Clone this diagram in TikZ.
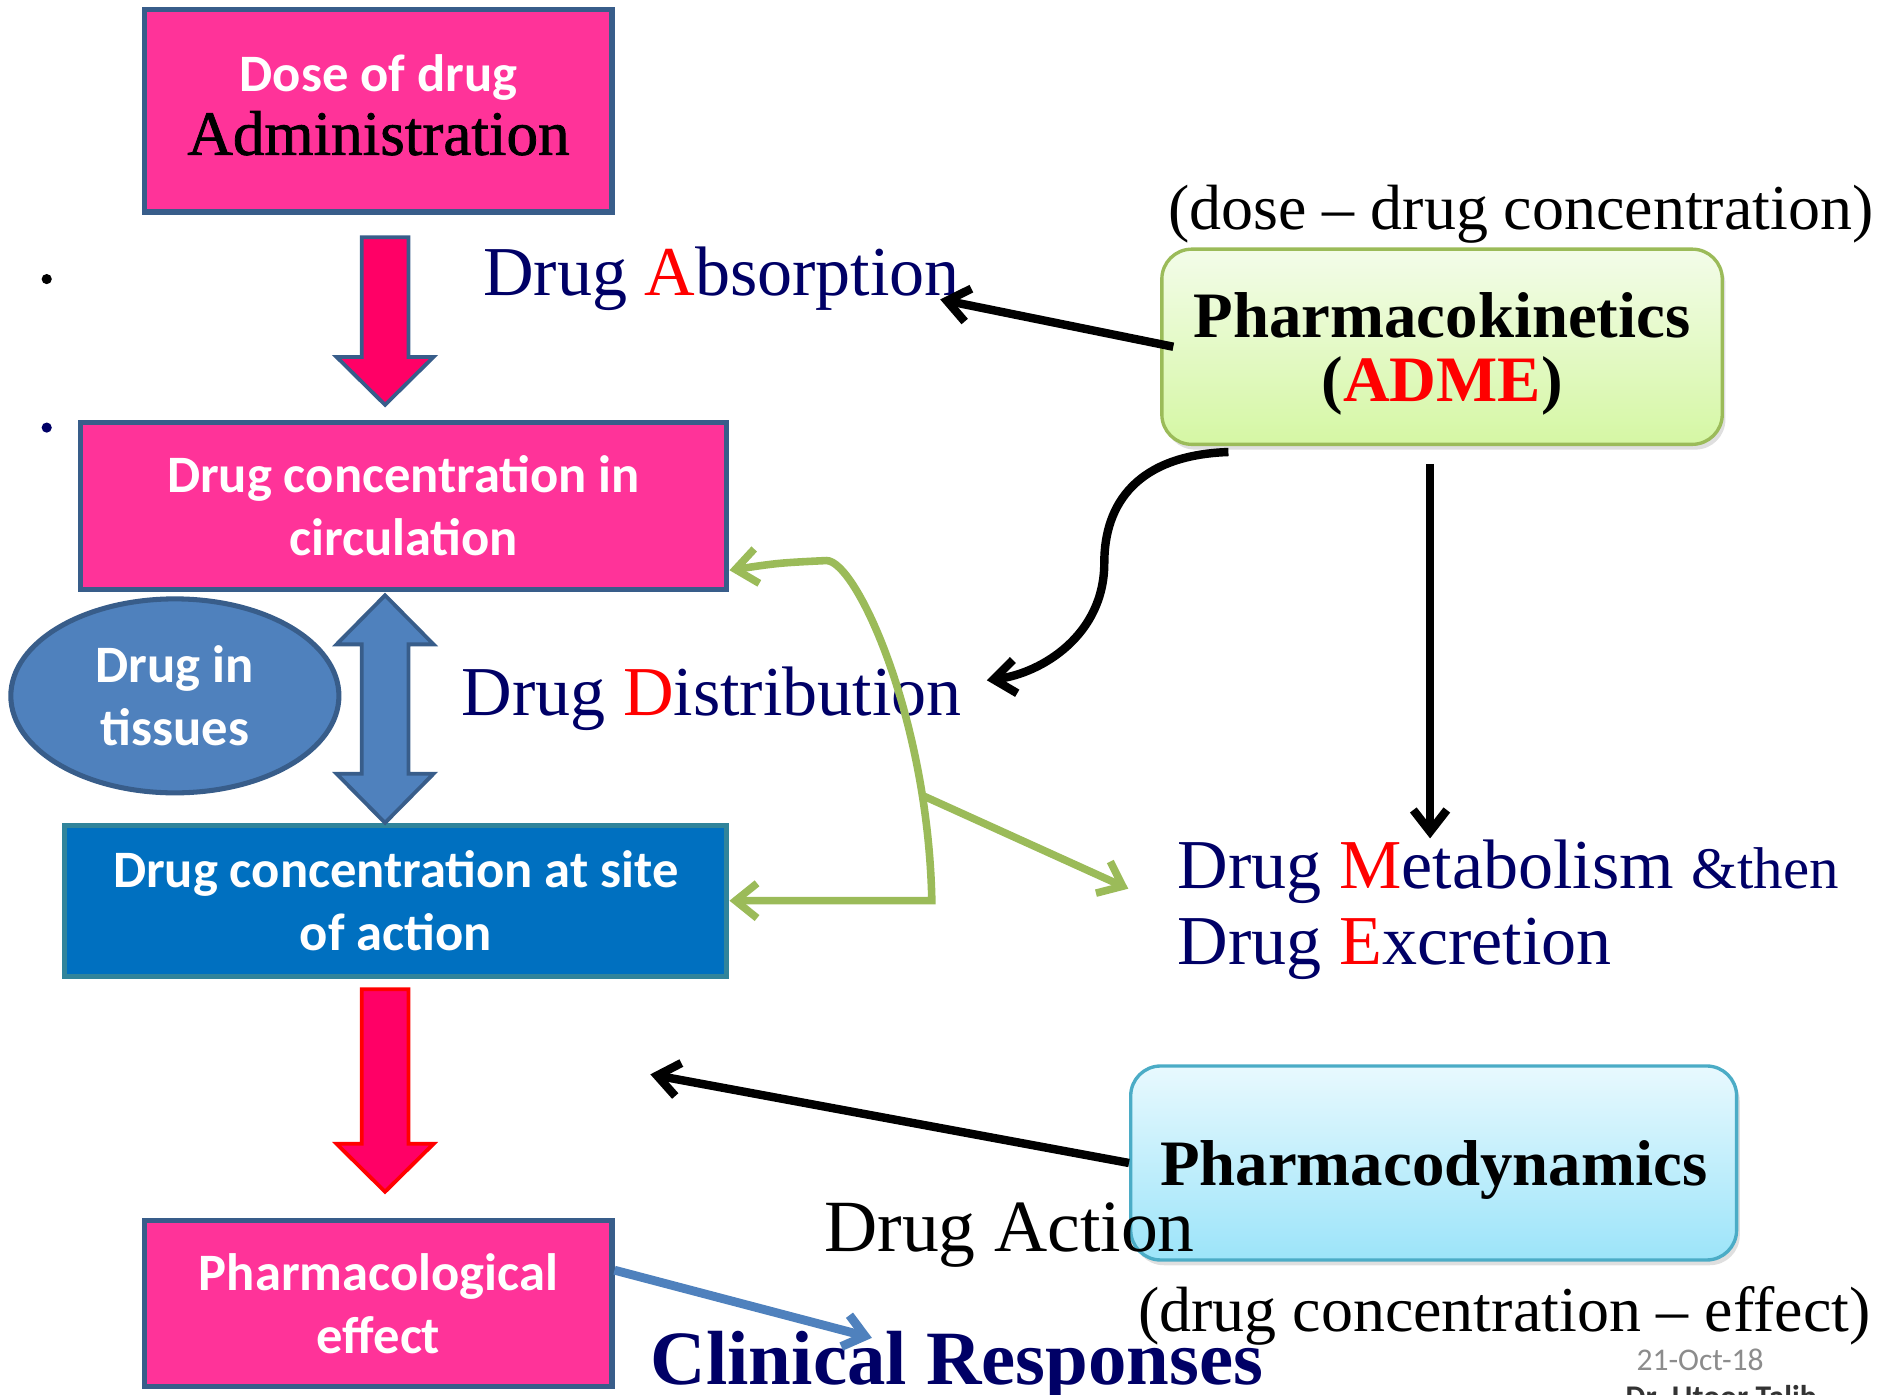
\documentclass[tikz,border=0pt]{standalone}
\usepackage{fontspec}
\setmainfont{Liberation Serif}
\newfontfamily\calibri{Carlito}
\newfontfamily\heavyserif[FakeBold=1.2]{Liberation Serif}
\usetikzlibrary{arrows.meta}
\usetikzlibrary{calc}
\usetikzlibrary{shadows}
\usetikzlibrary{shapes.geometric}

\definecolor{pinkfill}{HTML}{FF3399}
\definecolor{boxline}{HTML}{385D8A}
\definecolor{arrowred}{HTML}{FF0066}
\definecolor{tissueblue}{HTML}{4F81BD}
\definecolor{siteblue}{HTML}{0070C0}
\definecolor{siteline}{HTML}{31849B}
\definecolor{navy}{HTML}{000066}
\definecolor{pkgreen}{HTML}{9BBB59}
\definecolor{pktop}{HTML}{F3FCE9}
\definecolor{pkbottom}{HTML}{D5F7A4}
\definecolor{pdline}{HTML}{4BACC6}
\definecolor{pdtop}{HTML}{E8F9FE}
\definecolor{pdbottom}{HTML}{9CE4F9}
\definecolor{dategray}{HTML}{8C8C8C}

\tikzstyle{stage}=[rectangle, draw=boxline, line width=2.4pt, fill=pinkfill,
  text=white, align=center, inner sep=0pt,
  font=\calibri\bfseries\fontsize{25}{30}\selectfont]
\tikzstyle{sitebox}=[stage, fill=siteblue, draw=siteline]
\tikzstyle{pool}=[stage, ellipse, fill=tissueblue]
\tikzstyle{kinetic}=[rectangle, rounded corners=0.5cm, line width=1.6pt,
  align=center, inner sep=0pt, text depth=0pt,
  font=\bfseries\fontsize{30.8}{30.5}\selectfont,
  drop shadow={shadow xshift=1.5pt, shadow yshift=-2.5pt, opacity=0.25}]
\tikzstyle{phase}=[anchor=base west, inner sep=0pt, text=navy,
  font=\fontsize{33.3}{40}\selectfont]
\tikzstyle{note}=[anchor=base west, inner sep=0pt,
  font=\fontsize{30.4}{36}\selectfont]
\tikzstyle{dot}=[circle, fill=black, inner sep=0pt, minimum size=0.17cm]
\tikzstyle{blockred}=[fill=arrowred, draw=boxline, line width=1.8pt]
\tikzstyle{blockblue}=[fill=tissueblue, draw=boxline, line width=1.8pt]
\tikzstyle{arrblack}=[->, >={Straight Barb[length=0.36cm,width=0.56cm]},
  line width=4pt, draw=black]
\tikzstyle{arrgreen}=[->, >={Straight Barb[length=0.36cm,width=0.58cm]},
  line width=3.6pt, draw=pkgreen]
\tikzstyle{arrblue}=[->, >={Straight Barb[length=0.34cm,width=0.54cm]},
  line width=4.2pt, draw=tissueblue]

\begin{document}
\begin{tikzpicture}[x=0.02cm, y=-0.02cm]
\useasboundingbox (0,0) rectangle (1568,1164);
\clip (0,0) rectangle (1568,1164);

% left column
\node[stage, minimum width=7.8cm, minimum height=3.38cm, text depth=0.2cm] (dose) at (316,92.5)
  {Dose of drug\\{\color{black}\heavyserif\mdseries\fontsize{30}{30}\selectfont Administration}};
\node[stage, minimum width=10.8cm, minimum height=2.78cm] (circ) at (337,422.5)
  {Drug concentration in\\circulation};
\node[pool, minimum width=5.48cm, minimum height=3.24cm] (tissue) at (146,581)
  {Drug in\\tissues};
\node[sitebox, minimum width=11.06cm, minimum height=2.52cm] (site) at (330.5,752)
  {Drug concentration at site\\of action};
\node[stage, minimum width=7.8cm, minimum height=2.78cm] (effect) at (316,1088.5)
  {Pharmacological\\effect};

\draw[blockred] (302,198) -- (341,198) -- (341,298) -- (362,298) -- (321.5,338)
  -- (281,298) -- (302,298) -- cycle;
\draw[blockblue] (321.5,497) -- (362,538) -- (341,538) -- (341,646) -- (362,646)
  -- (321.5,687) -- (281,646) -- (302,646) -- (302,538) -- (281,538) -- cycle;
\draw[blockred, draw=red] (302,826) -- (341,826) -- (341,955) -- (362,955)
  -- (321.5,995) -- (281,955) -- (302,955) -- cycle;

\node[dot] (dotA) at (39,233) {};
\node[dot, fill=navy] (dotB) at (39,357) {};

% ADME labels
\node[phase] (absorb) at (403,247) {Drug {\color{red}A}bsorption};
\node[phase] (distrib) at (385,597) {Drug {\color{red}D}istribution};
\node[phase] (metab) at (983,742)
  {Drug {\color{red}M}etabolism {\fontsize{28}{34}\selectfont\&then}};
\node[phase] (excr) at (983,805) {Drug {\color{red}E}xcretion};

% right column
\node[note] (pkrange) at (975,192) {(dose – drug concentration)};
\node[kinetic, draw=pkgreen, top color=pktop, bottom color=pkbottom,
  minimum width=9.36cm, minimum height=3.26cm] (pk) at (1204,289.5)
  {Pharmacokinetics\\({\color{red}ADME})};
\node[kinetic, draw=pdline, top color=pdtop, bottom color=pdbottom,
  minimum width=10.12cm, minimum height=3.24cm] (pd) at (1197,971)
  {Pharmacodynamics};
\node[note, font=\fontsize{35}{42}\selectfont] (action) at (688,1045) {Drug Action};
\node[note] (pdrange) at (950,1112) {(drug concentration – effect)};
\node[phase, font=\bfseries\fontsize{36.5}{44}\selectfont] (clinical) at (543,1156)
  {Clinical Responses};
\node[anchor=base west, inner sep=0pt, text=dategray,
  font=\calibri\fontsize{15}{18}\selectfont] (date) at (1366,1144) {21-Oct-18};
\node[anchor=base west, inner sep=0pt, text=black!80,
  font=\calibri\bfseries\fontsize{15}{18}\selectfont] (author) at (1357,1175)
  {Dr. Utoor Talib};

% connectors
\coordinate (abstip) at (785,250);
\coordinate (disttip) at (824,568);
\coordinate (metabtip) at (1194,700);
\coordinate (actiontip) at (543,897);
\coordinate (clintip) at (728,1117);
\coordinate (bend) at (772,665);
\coordinate (elimtip) at (942,742);

\draw[arrblack] ($(pk.west)+(11,0)$) -- (abstip);
\draw[arrblack] ($(pk.south west)+(57,5)$) .. controls (950,380) and (922,420) .. (922,470)
  .. controls (922,530) and (870,562) .. (disttip);
\draw[arrblack] ($(pk.south)+(-10,15)$) -- (metabtip);
\draw[arrblack] (pd.west) -- (actiontip);

\draw[arrgreen, <->] ($(circ.south east)+(0,-18)$) .. controls (650,470) .. (690,468)
  .. controls (715,468) and (775,600) .. (778,752) -- (site.east);
\draw[arrgreen] (bend) -- (elimtip);
\draw[arrblue] ($(effect.east)+(0,-28)$) -- (clintip);

\end{tikzpicture}
\end{document}
